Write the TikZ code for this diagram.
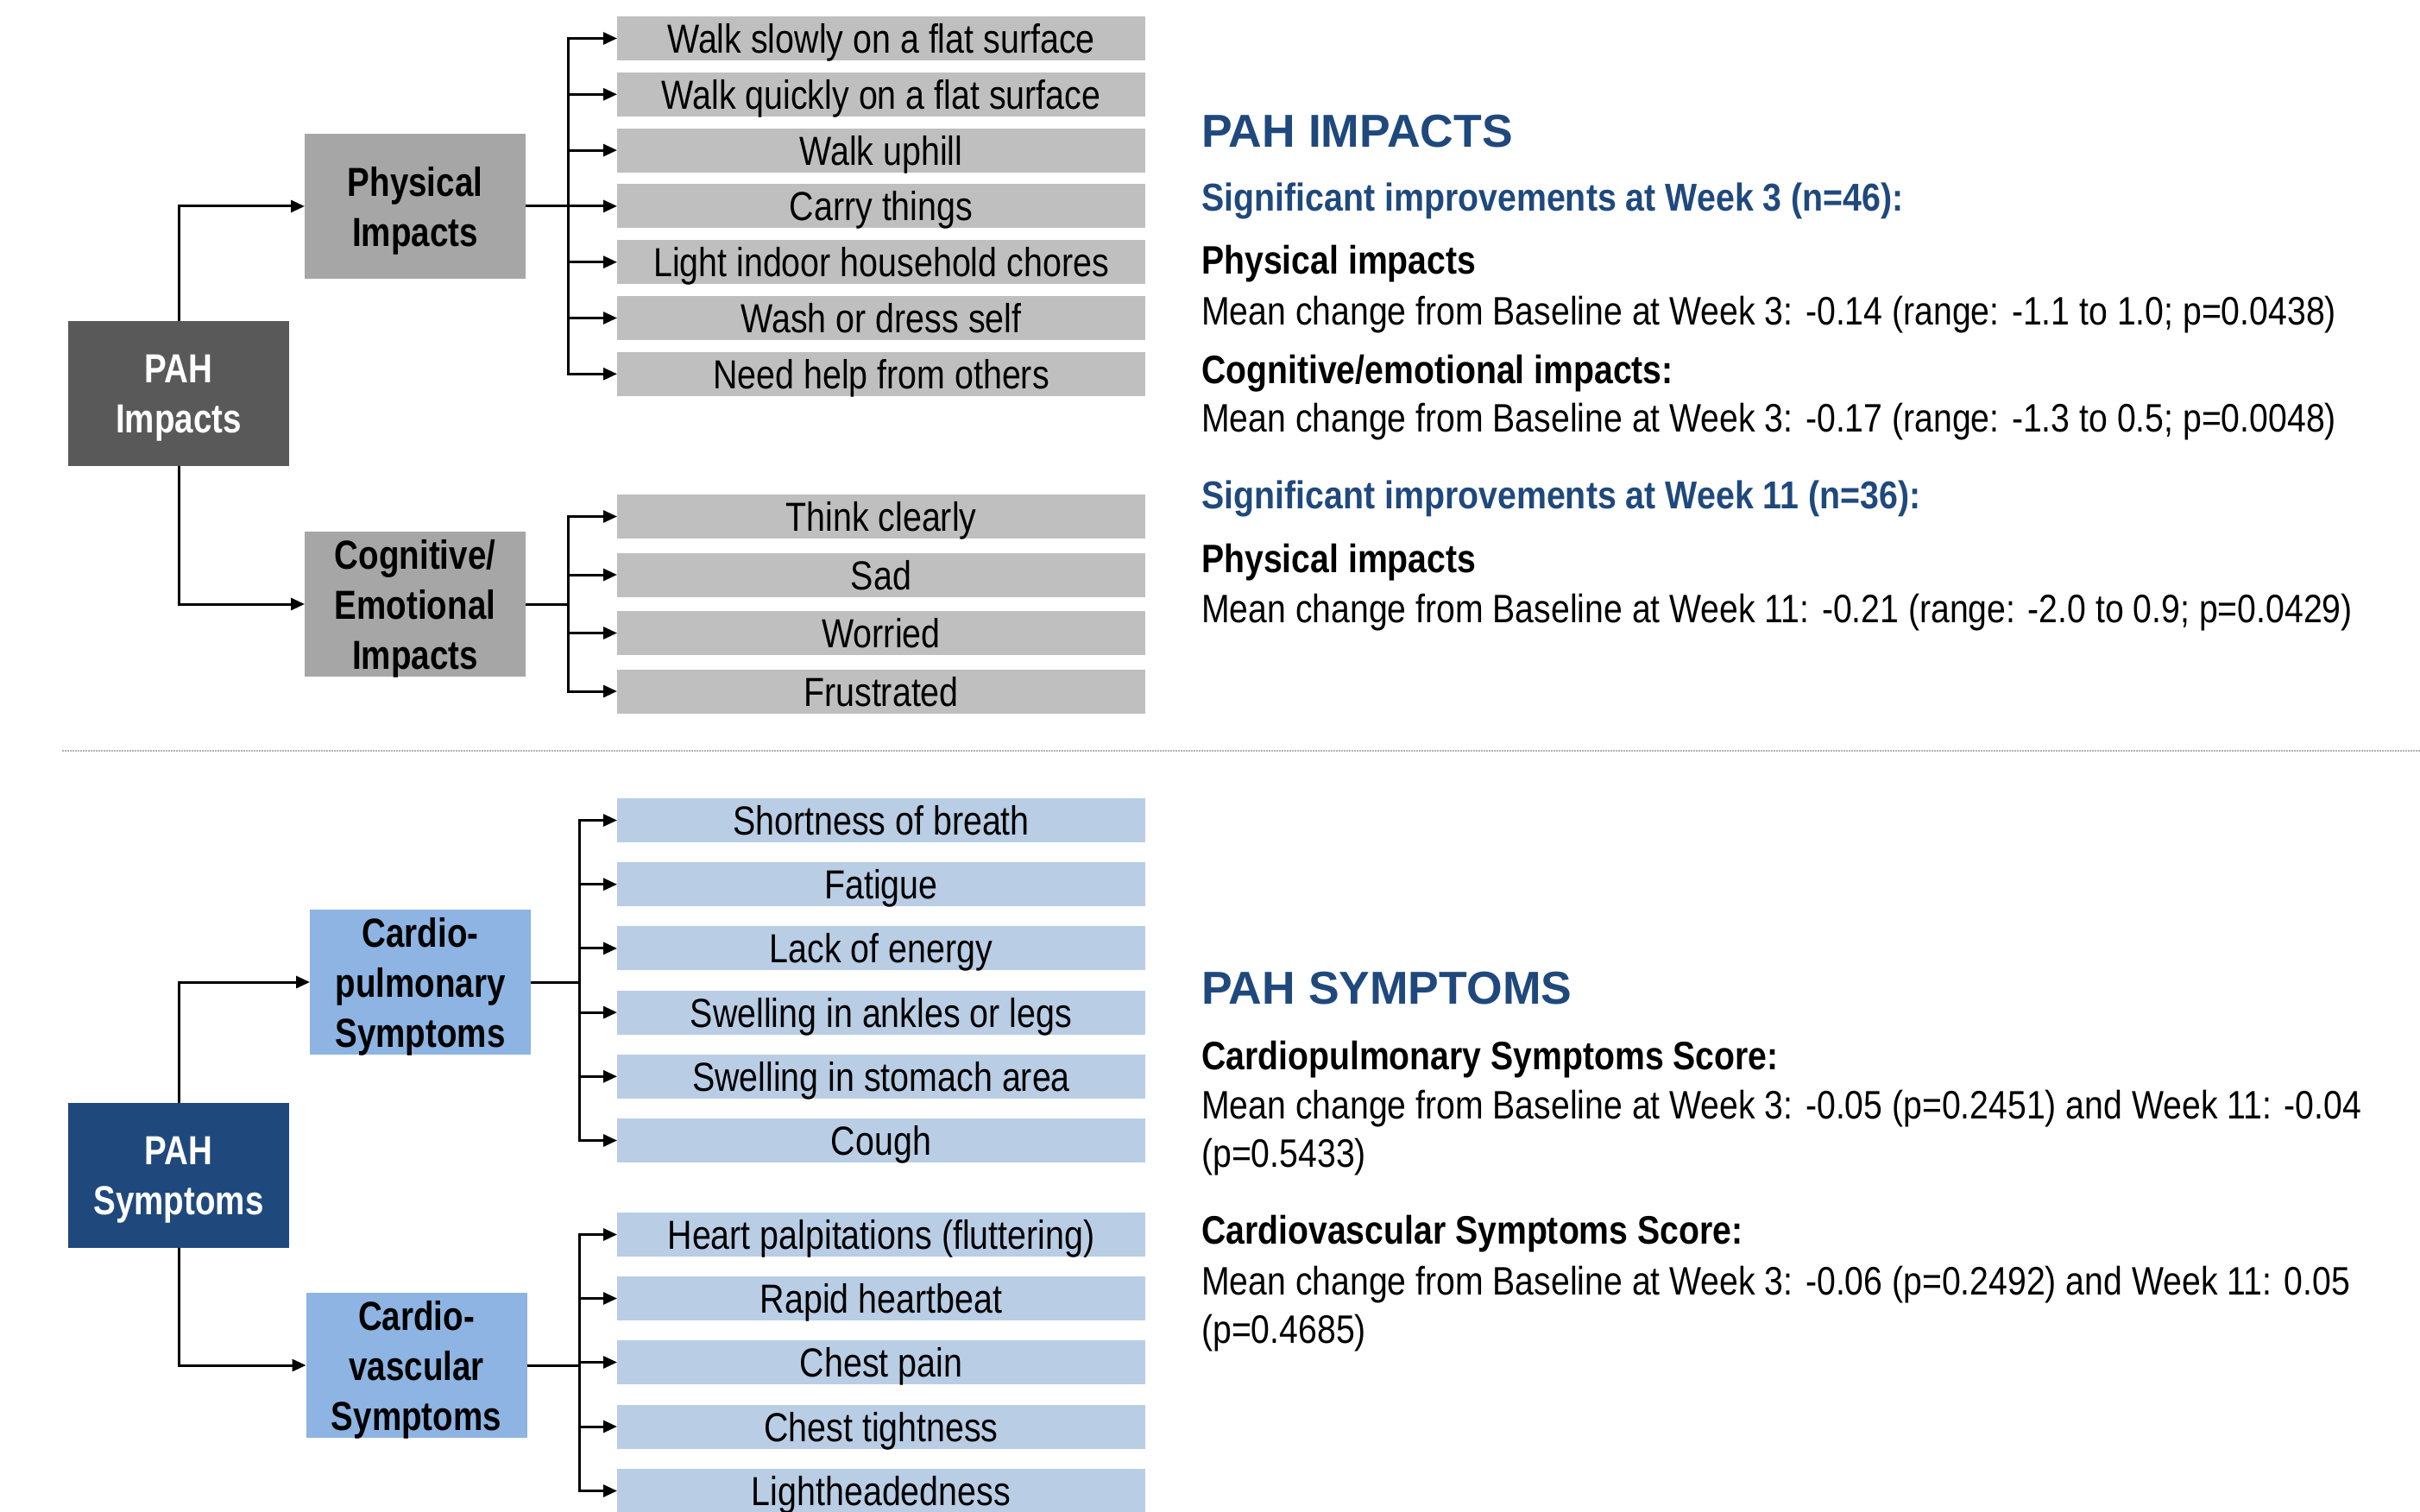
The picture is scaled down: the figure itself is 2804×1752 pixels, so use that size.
\documentclass[tikz,border=0pt]{standalone}
\usepackage{fontspec}
\setmainfont{Liberation Sans}
\newfontfamily\boxfont{Liberation Sans}[FakeStretch=0.82]
\newfontfamily\itemfont{Liberation Sans}[FakeStretch=0.838]
\newfontfamily\txtfont{Liberation Sans}[FakeStretch=0.852]
\newfontfamily\sigfont{Liberation Sans}[FakeStretch=0.874]
\usetikzlibrary{arrows.meta}
\definecolor{dkgray}{HTML}{595959}
\definecolor{mdgray}{HTML}{A6A6A6}
\definecolor{ltgray}{HTML}{BFBFBF}
\definecolor{navy}{HTML}{1F497D}
\definecolor{midblue}{HTML}{8DB4E2}
\definecolor{ltblue}{HTML}{B9CDE5}
\definecolor{headblue}{HTML}{1F497D}
\tikzset{
  base/.style={inner sep=0pt, outer sep=0pt, font=\itemfont\fontsize{47}{58}\selectfont},
  item/.style={base, minimum width=612pt, minimum height=51pt, text height=34pt, text depth=0pt},
  grayitem/.style={item, fill=ltgray},
  blueitem/.style={item, fill=ltblue},
  cat/.style={base, minimum width=256pt, minimum height=168pt, align=center, text depth=0pt,
    font=\boxfont\bfseries\fontsize{47}{58}\selectfont},
  ln/.style={line width=3pt},
  arr/.style={line width=3pt, -{Triangle[length=16pt,width=14pt]}},
  txt/.style={anchor=base west, inner sep=0pt, font=\txtfont\fontsize{46}{56}\selectfont},
  txtb/.style={txt, font=\txtfont\bfseries\fontsize{46}{56}\selectfont},
  sig/.style={txt, text=headblue, font=\sigfont\bfseries\fontsize{45}{56}\selectfont},
  head/.style={txt, text=headblue, font=\bfseries\fontsize{53.5}{60}\selectfont},
}
\begin{document}
\begin{tikzpicture}[x=1pt,y=-1pt]
\useasboundingbox (0,0) rectangle (2804,1752);

% ---------- PAH impacts tree ----------
\node[cat, fill=dkgray, text=white] (pahI) at (207,456) {PAH\\Impacts};
\node[cat, fill=mdgray] (phys) at (481,239) {Physical\\Impacts};
\node[cat, fill=mdgray] (cog) at (481,700) {Cognitive/\\Emotional\\Impacts};

\node[grayitem] (w1) at (1021,44.5) {Walk slowly on a flat surface};
\node[grayitem] (w2) at (1021,109.3) {Walk quickly on a flat surface};
\node[grayitem] (w3) at (1021,174.1) {Walk uphill};
\node[grayitem] (w4) at (1021,238.9) {Carry things};
\node[grayitem] (w5) at (1021,303.7) {Light indoor household chores};
\node[grayitem] (w6) at (1021,368.5) {Wash or dress self};
\node[grayitem] (w7) at (1021,433.3) {Need help from others};

\node[grayitem] (c1) at (1021,598.5) {Think clearly};
\node[grayitem] (c2) at (1021,666) {Sad};
\node[grayitem] (c3) at (1021,733.5) {Worried};
\node[grayitem] (c4) at (1021,801) {Frustrated};

\coordinate (bI) at (658,0);
\draw[arr] (pahI.north) |- (phys.west);
\draw[arr] (pahI.south) |- (cog.west);
\foreach \i in {1,...,7}
  \draw[arr] (phys.east) -- (phys.east -| bI) |- (w\i.west);
\foreach \i in {1,...,4}
  \draw[arr] (cog.east) -- (cog.east -| bI) |- (c\i.west);

% ---------- separator ----------
\coordinate (sepL) at (72,870);
\coordinate (sepR) at (2804,870);
\draw[gray!60, line width=1.2pt, dash pattern=on 1.5pt off 1.5pt] (sepL) -- (sepR);

% ---------- PAH symptoms tree ----------
\node[cat, fill=navy, text=white] (pahS) at (207,1362) {PAH\\Symptoms};
\node[cat, fill=midblue] (cp) at (487,1138) {Cardio-\\pulmonary\\Symptoms};
\node[cat, fill=midblue] (cv) at (482.5,1582) {Cardio-\\vascular\\Symptoms};

\node[blueitem] (p1) at (1021,950.5) {Shortness of breath};
\node[blueitem] (p2) at (1021,1024.7) {Fatigue};
\node[blueitem] (p3) at (1021,1098.9) {Lack of energy};
\node[blueitem] (p4) at (1021,1173.1) {Swelling in ankles or legs};
\node[blueitem] (p5) at (1021,1247.3) {Swelling in stomach area};
\node[blueitem] (p6) at (1021,1321.5) {Cough};

\node[blueitem] (v1) at (1021,1430.5) {Heart palpitations (fluttering)};
\node[blueitem] (v2) at (1021,1504.5) {Rapid heartbeat};
\node[blueitem] (v3) at (1021,1578.5) {Chest pain};
\node[blueitem] (v4) at (1021,1653) {Chest tightness};
\node[blueitem] (v5) at (1021,1727.5) {Lightheadedness};

\coordinate (bS) at (671,0);
\draw[arr] (pahS.north) |- (cp.west);
\draw[arr] (pahS.south) |- (cv.west);
\foreach \i in {1,...,6}
  \draw[arr] (cp.east) -- (cp.east -| bS) |- (p\i.west);
\foreach \i in {1,...,5}
  \draw[arr] (cv.east) -- (cv.east -| bS) |- (v\i.west);

% ---------- right-hand text ----------
\node[head] (h1) at (1392,171) {PAH IMPACTS};
\node[sig] (s1) at (1392,245) {Significant improvements at Week 3 (n=46):};
\node[txtb] (t1) at (1392,318) {Physical impacts};
\node[txt] (t2) at (1392,376) {Mean change from Baseline at Week 3: -0.14 (range: -1.1 to 1.0; p=0.0438)};
\node[txtb] (t3) at (1392,444) {Cognitive/emotional impacts:};
\node[txt] (t4) at (1392,500) {Mean change from Baseline at Week 3: -0.17 (range: -1.3 to 0.5; p=0.0048)};
\node[sig] (s2) at (1392,589) {Significant improvements at Week 11 (n=36):};
\node[txtb] (t5) at (1392,663) {Physical impacts};
\node[txt] (t6) at (1392,721) {Mean change from Baseline at Week 11: -0.21 (range: -2.0 to 0.9; p=0.0429)};

\node[head] (h2) at (1392,1163) {PAH SYMPTOMS};
\node[txtb] (u1) at (1392,1239) {Cardiopulmonary Symptoms Score:};
\node[txt] (u2) at (1392,1296) {Mean change from Baseline at Week 3: -0.05 (p=0.2451) and Week 11: -0.04};
\node[txt] (u3) at (1392,1352) {(p=0.5433)};
\node[txtb] (u4) at (1392,1441) {Cardiovascular Symptoms Score:};
\node[txt] (u5) at (1392,1500) {Mean change from Baseline at Week 3: -0.06 (p=0.2492) and Week 11: 0.05};
\node[txt] (u6) at (1392,1556) {(p=0.4685)};
\end{tikzpicture}
\end{document}
